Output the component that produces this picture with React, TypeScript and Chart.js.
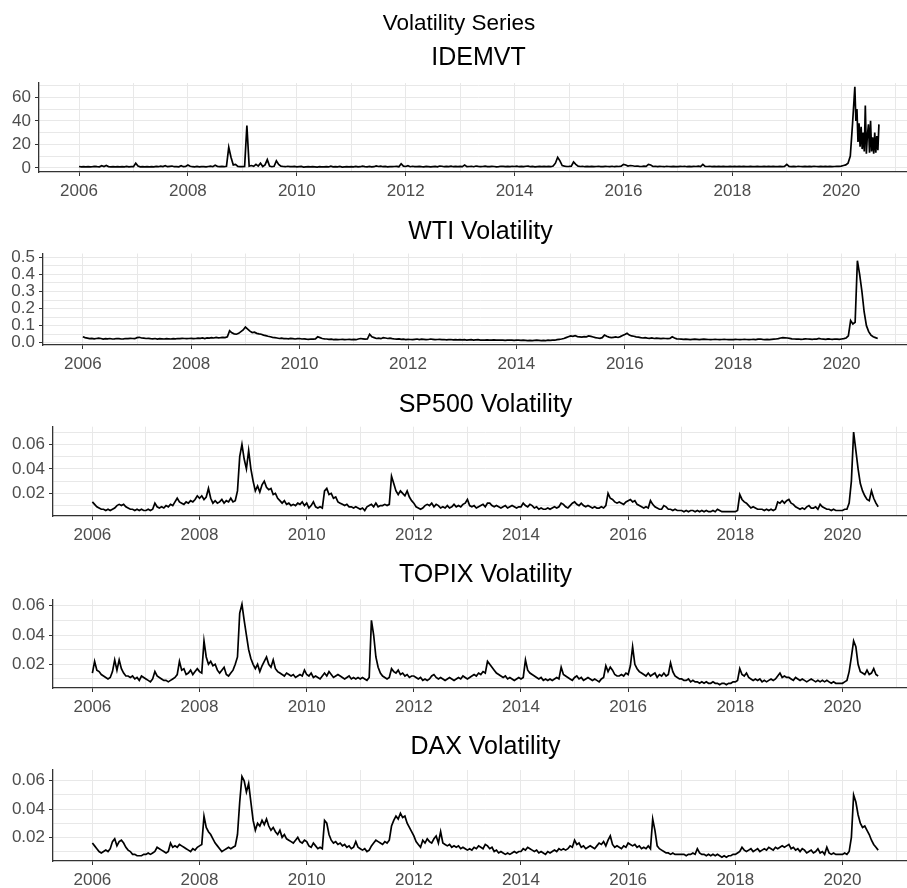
import React, { useEffect, useRef } from "react";
import { Chart, registerables } from "chart.js";

Chart.register(...registerables);

// ---------- data (half-monthly readings, Jan 2006 – Aug 2020) ----------
const START_YEAR = 2006;
const STEPS_PER_YEAR = 24;

// IDEMVT half-monthly up to the March-2020 peak, then weekly readings
const idemvt = [
  1.2, 0.8, 1, 0.9, 1.1, 0.8, 1, 1.3, 1, 0.9, 1.8, 1.2, 2, 1.1, 0.9, 1, 0.8, 1.1, 0.9, 1, 0.8, 1.2, 0.9, 1,
  1, 4, 1.5, 0.9, 1, 0.8, 1.1, 0.9, 1, 0.8, 1.2, 1, 1.5, 1.1, 1.8, 1, 1.3, 1.6, 1, 1.1, 0.9, 1.8, 1, 1.2,
  2.5, 1.4, 1, 0.9, 1.2, 0.8, 1, 1.1, 0.9, 1.2, 1.5, 1, 2.2, 1.3, 1, 1.2, 1, 1.4, 17.5, 9, 2.5, 3, 1.2, 1,
  1, 1.2, 36, 1.5, 2, 1.3, 3, 1.5, 4, 1.2, 2.5, 7, 1.5, 1, 1.4, 6, 3, 1.5, 1.2, 1, 1.4, 1.1, 1, 1.2,
  0.8, 1, 1.2, 0.7, 0.9, 1, 0.8, 1.1, 0.9, 0.7, 1, 0.8, 0.9, 1.1, 0.8, 1.5, 0.9, 1, 0.8, 1.2, 0.7, 0.9, 1, 0.8,
  1, 0.9, 1.3, 0.8, 1, 1.5, 1.1, 0.9, 1.2, 0.8, 1, 1.7, 1.2, 1.5, 1, 1.3, 0.9, 1.1, 1, 1.2, 1.3, 1, 3.5, 1.5,
  1.2, 1.8, 1, 1.4, 1.1, 1, 1.3, 1, 0.9, 1.2, 1, 0.8, 1.1, 1.3, 0.9, 1.6, 1.4, 1, 1.2, 1.1, 1.5, 1, 1.2, 1.1,
  1.3, 1, 2.5, 1.1, 1.2, 1.4, 1, 1.6, 1.3, 1.1, 1.2, 1.5, 1.1, 1, 1.3, 1.2, 0.9, 1.1, 1.4, 1.3, 1, 1.2, 1.1, 1.4,
  1.2, 1.5, 1, 1.3, 1.1, 1.4, 1.5, 1, 1.2, 0.9, 1.1, 1.3, 1, 1.2, 1.1, 1.3, 1, 1.5, 4, 9, 6, 2, 1.5, 1.2,
  1.3, 1.5, 5, 3, 1.5, 1.2, 1.4, 1, 1.2, 1.1, 1.3, 1, 1.2, 1.4, 1.1, 1, 1.3, 1.2, 1.1, 1.4, 1, 1.3, 1.2, 1.5,
  3, 2.5, 1.5, 2, 1.8, 1.4, 1.6, 1.3, 1.2, 1.5, 1.3, 3, 2.5, 1.2, 1.4, 1.1, 1.3, 1.2, 1, 1.4, 1.2, 1.1, 1.3, 1,
  1.1, 1.3, 1.2, 1.4, 1, 1.2, 1.1, 1.3, 1.2, 1.5, 1.1, 3, 1.3, 1.2, 1.4, 1.1, 1.2, 1, 1.3, 1.1, 1.2, 1, 1.1, 1.2,
  1, 1.2, 1.1, 1.3, 1, 1.2, 1.1, 1, 1.3, 1.1, 1, 1.2, 1.1, 1, 1.2, 1.1, 1.3, 1, 1.2, 1.1, 1, 1.2, 1.1, 1.3,
  3, 1.3, 1.1, 1.2, 1, 1.4, 1.2, 1.1, 1.3, 1, 1.2, 1.1, 1.4, 1.2, 1, 1.3, 1.1, 1.2, 1, 1.3, 1.1, 1.2, 1.4, 1.3,
  1.5, 2, 2.5, 4, 10, 38, 69,
];
const IDEMVT_WEEKLY_START = 2020.25;
const WEEKS_PER_YEAR = 52;
const idemvtWeekly2020 = [40, 50, 22, 38, 18, 35, 16, 30, 14, 53, 12, 28, 37, 13, 40, 14, 26, 12, 30, 13, 27, 15, 37];

const wti = [
  0.035, 0.03, 0.027, 0.024, 0.026, 0.023, 0.025, 0.027, 0.025, 0.022, 0.024, 0.023, 0.025, 0.022, 0.023, 0.025, 0.024, 0.022, 0.023, 0.025, 0.024, 0.026, 0.025, 0.024,
  0.03, 0.032, 0.028, 0.027, 0.025, 0.026, 0.024, 0.023, 0.025, 0.022, 0.024, 0.023, 0.022, 0.024, 0.023, 0.022, 0.024, 0.023, 0.025, 0.024, 0.026, 0.025, 0.024, 0.025,
  0.026, 0.024, 0.025, 0.027, 0.026, 0.028, 0.025, 0.029, 0.027, 0.03, 0.028, 0.031, 0.029, 0.03, 0.032, 0.03, 0.035, 0.07, 0.058, 0.052, 0.05, 0.055, 0.065, 0.075,
  0.092, 0.08, 0.068, 0.06, 0.062, 0.055, 0.052, 0.05, 0.045, 0.042, 0.038, 0.035, 0.032, 0.03, 0.028, 0.025, 0.027, 0.024, 0.025, 0.023, 0.026, 0.024, 0.022, 0.024,
  0.025, 0.022, 0.023, 0.021, 0.02, 0.022, 0.021, 0.023, 0.035, 0.03, 0.025, 0.023, 0.022, 0.02, 0.021, 0.019, 0.02, 0.018, 0.019, 0.02, 0.018, 0.019, 0.02, 0.019,
  0.02, 0.018, 0.022, 0.025, 0.023, 0.021, 0.022, 0.05, 0.035, 0.03, 0.025, 0.027, 0.024, 0.03, 0.028, 0.025, 0.027, 0.024, 0.022, 0.021, 0.023, 0.02, 0.021, 0.019,
  0.02, 0.019, 0.018, 0.02, 0.022, 0.019, 0.021, 0.02, 0.018, 0.019, 0.022, 0.02, 0.018, 0.019, 0.02, 0.018, 0.019, 0.017, 0.018, 0.019, 0.017, 0.018, 0.017, 0.018,
  0.017, 0.018, 0.016, 0.017, 0.018, 0.016, 0.017, 0.018, 0.016, 0.015, 0.016, 0.017, 0.015, 0.016, 0.017, 0.016, 0.015, 0.016, 0.015, 0.014, 0.015, 0.016, 0.015, 0.014,
  0.015, 0.016, 0.014, 0.015, 0.014, 0.013, 0.014, 0.013, 0.014, 0.015, 0.014, 0.013, 0.014, 0.013, 0.015, 0.014, 0.016, 0.015, 0.018, 0.02, 0.022, 0.025, 0.03, 0.035,
  0.04, 0.038, 0.042, 0.036, 0.035, 0.033, 0.036, 0.035, 0.04, 0.037, 0.034, 0.03, 0.028, 0.026, 0.03, 0.045, 0.038, 0.033, 0.03, 0.032, 0.034, 0.031, 0.036, 0.042,
  0.048, 0.055, 0.045, 0.04, 0.038, 0.035, 0.033, 0.03, 0.028, 0.03, 0.027, 0.026, 0.028, 0.025, 0.027, 0.026, 0.024, 0.026, 0.025, 0.024, 0.025, 0.035, 0.028, 0.023,
  0.022, 0.021, 0.02, 0.021, 0.02, 0.019, 0.02, 0.021, 0.02, 0.019, 0.02, 0.021, 0.02, 0.019, 0.018, 0.019, 0.02, 0.019, 0.018, 0.019, 0.02, 0.019, 0.018, 0.019,
  0.019, 0.02, 0.019, 0.018, 0.019, 0.02, 0.019, 0.018, 0.019, 0.02, 0.019, 0.021, 0.022, 0.02, 0.019, 0.02, 0.019, 0.02, 0.021, 0.022, 0.024, 0.028, 0.03, 0.029,
  0.028, 0.026, 0.023, 0.022, 0.021, 0.022, 0.02, 0.021, 0.023, 0.022, 0.021, 0.02, 0.022, 0.021, 0.025, 0.022, 0.021, 0.02, 0.023, 0.021, 0.02, 0.022, 0.021, 0.02,
  0.022, 0.024, 0.028, 0.04, 0.13, 0.11, 0.12, 0.48, 0.4, 0.3, 0.18, 0.1, 0.065, 0.045, 0.035, 0.03, 0.025,
];

const sp500 = [
  0.013, 0.011, 0.009, 0.008, 0.007, 0.007, 0.006, 0.007, 0.006, 0.007, 0.008, 0.01, 0.011, 0.01, 0.011, 0.009, 0.008, 0.007, 0.007, 0.006, 0.007, 0.006, 0.007, 0.006,
  0.006, 0.007, 0.006, 0.007, 0.012, 0.009, 0.008, 0.009, 0.008, 0.01, 0.009, 0.011, 0.01, 0.013, 0.016, 0.013, 0.012, 0.011, 0.013, 0.012, 0.014, 0.013, 0.015, 0.018,
  0.016, 0.018, 0.015, 0.017, 0.024, 0.016, 0.012, 0.014, 0.012, 0.013, 0.015, 0.012, 0.014, 0.013, 0.016, 0.013, 0.014, 0.022, 0.05, 0.06, 0.048, 0.04, 0.055, 0.04,
  0.03, 0.022, 0.026, 0.021, 0.027, 0.03, 0.025, 0.023, 0.024, 0.019, 0.02, 0.016, 0.014, 0.012, 0.014, 0.011, 0.012, 0.01, 0.011, 0.01, 0.012, 0.011, 0.013, 0.01,
  0.012, 0.008, 0.01, 0.013, 0.009, 0.008, 0.009, 0.008, 0.022, 0.024, 0.019, 0.02, 0.016, 0.017, 0.013, 0.012, 0.011, 0.01, 0.011, 0.009, 0.009, 0.008, 0.009, 0.008,
  0.007, 0.008, 0.006, 0.009, 0.01, 0.011, 0.009, 0.012, 0.009, 0.01, 0.01, 0.011, 0.01, 0.011, 0.034, 0.028, 0.022, 0.019, 0.022, 0.02, 0.018, 0.022, 0.017, 0.014,
  0.012, 0.009, 0.008, 0.007, 0.008, 0.01, 0.011, 0.01, 0.012, 0.009, 0.011, 0.01, 0.008, 0.009, 0.008, 0.01, 0.008, 0.009, 0.011, 0.009, 0.01, 0.009, 0.011, 0.012,
  0.015, 0.01, 0.009, 0.01, 0.008, 0.009, 0.01, 0.011, 0.009, 0.012, 0.012, 0.01, 0.009, 0.01, 0.009, 0.008, 0.009, 0.01, 0.008, 0.009, 0.01, 0.009, 0.008, 0.009,
  0.009, 0.012, 0.01, 0.009, 0.011, 0.01, 0.008, 0.009, 0.007, 0.008, 0.007, 0.007, 0.008, 0.007, 0.008, 0.009, 0.008, 0.009, 0.012, 0.011, 0.009, 0.008, 0.01, 0.012,
  0.013, 0.011, 0.01, 0.012, 0.01, 0.009, 0.01, 0.009, 0.008, 0.009, 0.008, 0.008, 0.009, 0.008, 0.01, 0.02, 0.016, 0.015, 0.013, 0.012, 0.013, 0.012, 0.011, 0.013,
  0.014, 0.015, 0.013, 0.014, 0.011, 0.01, 0.009, 0.008, 0.009, 0.008, 0.014, 0.011, 0.009, 0.008, 0.007, 0.007, 0.01, 0.009, 0.007, 0.007, 0.006, 0.007, 0.006, 0.006,
  0.006, 0.005, 0.006, 0.005, 0.006, 0.006, 0.005, 0.006, 0.005, 0.006, 0.005, 0.006, 0.005, 0.005, 0.006, 0.005, 0.007, 0.006, 0.005, 0.005, 0.005, 0.005, 0.005, 0.005,
  0.005, 0.006, 0.019, 0.015, 0.013, 0.012, 0.01, 0.008, 0.009, 0.008, 0.007, 0.007, 0.007, 0.006, 0.007, 0.006, 0.007, 0.006, 0.007, 0.013, 0.012, 0.014, 0.012, 0.014,
  0.015, 0.012, 0.011, 0.009, 0.008, 0.007, 0.008, 0.007, 0.009, 0.01, 0.008, 0.008, 0.009, 0.007, 0.011, 0.009, 0.008, 0.007, 0.007, 0.006, 0.007, 0.006, 0.006, 0.006,
  0.006, 0.007, 0.007, 0.012, 0.03, 0.07, 0.055, 0.04, 0.028, 0.022, 0.018, 0.015, 0.014, 0.022, 0.016, 0.012, 0.009,
];

const topix = [
  0.014, 0.022, 0.016, 0.015, 0.013, 0.012, 0.011, 0.01, 0.011, 0.015, 0.023, 0.016, 0.023, 0.017, 0.014, 0.012, 0.012, 0.011, 0.012, 0.01, 0.011, 0.009, 0.012, 0.011,
  0.01, 0.009, 0.008, 0.01, 0.015, 0.012, 0.011, 0.01, 0.009, 0.009, 0.008, 0.009, 0.01, 0.011, 0.013, 0.022, 0.016, 0.017, 0.013, 0.014, 0.016, 0.013, 0.015, 0.017,
  0.015, 0.014, 0.036, 0.025, 0.02, 0.022, 0.019, 0.02, 0.016, 0.014, 0.016, 0.018, 0.013, 0.012, 0.014, 0.016, 0.02, 0.025, 0.055, 0.061, 0.05, 0.04, 0.03, 0.024,
  0.02, 0.017, 0.02, 0.015, 0.019, 0.022, 0.025, 0.02, 0.018, 0.023, 0.017, 0.015, 0.014, 0.013, 0.012, 0.014, 0.013, 0.012, 0.013, 0.011, 0.012, 0.013, 0.012, 0.016,
  0.013, 0.012, 0.014, 0.011, 0.012, 0.011, 0.01, 0.012, 0.014, 0.012, 0.015, 0.013, 0.011, 0.012, 0.013, 0.012, 0.011, 0.01, 0.011, 0.012, 0.01, 0.011, 0.01, 0.011,
  0.01, 0.011, 0.01, 0.009, 0.011, 0.05, 0.04, 0.025, 0.018, 0.014, 0.012, 0.011, 0.01, 0.011, 0.017, 0.015, 0.014, 0.016, 0.013, 0.014, 0.012, 0.013, 0.011, 0.012,
  0.012, 0.011, 0.01, 0.011, 0.009, 0.01, 0.009, 0.01, 0.012, 0.013, 0.011, 0.01, 0.011, 0.01, 0.009, 0.01, 0.011, 0.01, 0.009, 0.01, 0.011, 0.01, 0.012, 0.011,
  0.01, 0.011, 0.012, 0.013, 0.012, 0.014, 0.013, 0.015, 0.014, 0.022, 0.02, 0.018, 0.016, 0.014, 0.013, 0.012, 0.011, 0.012, 0.01, 0.011, 0.01, 0.009, 0.01, 0.011,
  0.01, 0.011, 0.023, 0.016, 0.014, 0.013, 0.012, 0.011, 0.01, 0.011, 0.009, 0.01, 0.009, 0.01, 0.009, 0.01, 0.011, 0.01, 0.018, 0.013, 0.012, 0.011, 0.01, 0.009,
  0.011, 0.012, 0.01, 0.011, 0.009, 0.01, 0.011, 0.01, 0.009, 0.01, 0.009, 0.008, 0.01, 0.011, 0.019, 0.015, 0.018, 0.016, 0.013, 0.012, 0.012, 0.013, 0.012, 0.014,
  0.013, 0.019, 0.032, 0.02, 0.017, 0.015, 0.014, 0.013, 0.012, 0.014, 0.012, 0.013, 0.014, 0.011, 0.013, 0.012, 0.014, 0.012, 0.013, 0.021, 0.015, 0.012, 0.011, 0.01,
  0.01, 0.009, 0.009, 0.01, 0.008, 0.009, 0.008, 0.008, 0.007, 0.008, 0.007, 0.008, 0.007, 0.007, 0.008, 0.007, 0.007, 0.006, 0.007, 0.007, 0.006, 0.007, 0.007, 0.008,
  0.008, 0.009, 0.017, 0.013, 0.012, 0.014, 0.011, 0.01, 0.009, 0.01, 0.009, 0.01, 0.008, 0.009, 0.008, 0.009, 0.01, 0.009, 0.01, 0.012, 0.014, 0.011, 0.012, 0.011,
  0.011, 0.01, 0.009, 0.011, 0.01, 0.009, 0.01, 0.009, 0.008, 0.009, 0.01, 0.009, 0.008, 0.009, 0.008, 0.009, 0.008, 0.009, 0.008, 0.007, 0.008, 0.007, 0.007, 0.007,
  0.007, 0.008, 0.009, 0.015, 0.025, 0.036, 0.032, 0.02, 0.015, 0.014, 0.013, 0.016, 0.013, 0.014, 0.017, 0.013, 0.012,
];

const dax = [
  0.016, 0.014, 0.012, 0.01, 0.009, 0.01, 0.011, 0.01, 0.012, 0.017, 0.019, 0.014, 0.017, 0.018, 0.016, 0.013, 0.011, 0.01, 0.008, 0.008, 0.007, 0.007, 0.007, 0.008,
  0.008, 0.009, 0.008, 0.009, 0.01, 0.013, 0.012, 0.011, 0.01, 0.009, 0.01, 0.016, 0.013, 0.014, 0.013, 0.015, 0.014, 0.013, 0.012, 0.011, 0.01, 0.012, 0.011, 0.013,
  0.014, 0.015, 0.035, 0.027, 0.024, 0.022, 0.019, 0.016, 0.014, 0.012, 0.01, 0.011, 0.012, 0.013, 0.012, 0.013, 0.014, 0.022, 0.045, 0.063, 0.06, 0.052, 0.058, 0.045,
  0.032, 0.025, 0.03, 0.028, 0.032, 0.029, 0.033, 0.028, 0.025, 0.027, 0.024, 0.022, 0.025, 0.02, 0.022, 0.019, 0.018, 0.017, 0.016, 0.018, 0.02, 0.017, 0.016, 0.018,
  0.017, 0.014, 0.013, 0.016, 0.014, 0.012, 0.013, 0.012, 0.032, 0.03, 0.022, 0.018, 0.016, 0.017, 0.015, 0.016, 0.014, 0.015, 0.013, 0.014, 0.012, 0.013, 0.017, 0.013,
  0.012, 0.011, 0.012, 0.01, 0.011, 0.014, 0.016, 0.018, 0.017, 0.016, 0.015, 0.017, 0.016, 0.018, 0.028, 0.032, 0.035, 0.033, 0.037, 0.034, 0.035, 0.03, 0.027, 0.024,
  0.021, 0.017, 0.015, 0.013, 0.018, 0.016, 0.019, 0.017, 0.016, 0.019, 0.021, 0.016, 0.024, 0.016, 0.015, 0.014, 0.015, 0.013, 0.014, 0.013, 0.014, 0.012, 0.013, 0.012,
  0.011, 0.012, 0.011, 0.013, 0.012, 0.014, 0.013, 0.012, 0.015, 0.014, 0.012, 0.013, 0.01, 0.011, 0.009, 0.01, 0.009, 0.008, 0.009, 0.008, 0.009, 0.01, 0.009, 0.01,
  0.01, 0.012, 0.011, 0.013, 0.012, 0.011, 0.01, 0.011, 0.009, 0.01, 0.009, 0.008, 0.01, 0.009, 0.01, 0.011, 0.01, 0.012, 0.011, 0.012, 0.011, 0.012, 0.014, 0.013,
  0.018, 0.015, 0.016, 0.013, 0.014, 0.012, 0.013, 0.014, 0.013, 0.012, 0.014, 0.016, 0.015, 0.017, 0.014, 0.018, 0.021, 0.015, 0.013, 0.014, 0.013, 0.012, 0.014, 0.013,
  0.016, 0.015, 0.014, 0.015, 0.013, 0.014, 0.012, 0.013, 0.012, 0.014, 0.012, 0.033, 0.025, 0.014, 0.012, 0.011, 0.01, 0.009, 0.009, 0.008, 0.009, 0.008, 0.008, 0.008,
  0.008, 0.008, 0.007, 0.008, 0.008, 0.009, 0.008, 0.012, 0.009, 0.008, 0.008, 0.007, 0.008, 0.007, 0.008, 0.007, 0.008, 0.007, 0.006, 0.007, 0.006, 0.007, 0.007, 0.008,
  0.008, 0.009, 0.01, 0.013, 0.011, 0.01, 0.011, 0.012, 0.01, 0.011, 0.012, 0.01, 0.011, 0.012, 0.011, 0.013, 0.012, 0.011, 0.013, 0.012, 0.013, 0.014, 0.013, 0.014,
  0.015, 0.012, 0.013, 0.011, 0.012, 0.01, 0.012, 0.011, 0.009, 0.01, 0.011, 0.009, 0.01, 0.012, 0.009, 0.01, 0.008, 0.013, 0.009, 0.008, 0.009, 0.008, 0.008, 0.008,
  0.008, 0.009, 0.008, 0.01, 0.02, 0.05, 0.045, 0.036, 0.03, 0.027, 0.028, 0.025, 0.022, 0.018, 0.015, 0.013, 0.011,
];

const dates = wti.map((_, i) => START_YEAR + i / STEPS_PER_YEAR);

const idemvtPoints = [
  ...idemvt.map((y, i) => ({ x: dates[i], y })),
  ...idemvtWeekly2020.map((y, i) => ({ x: IDEMVT_WEEKLY_START + (i + 1) / WEEKS_PER_YEAR, y })),
];
const toPoints = (values: number[]) => values.map((y, i) => ({ x: dates[i], y }));

// ---------- text and ticks ----------
const mainTitle = "Volatility Series";
const panelTitles = ["IDEMVT", "WTI Volatility", "SP500 Volatility", "TOPIX Volatility", "DAX Volatility"];

const xGridYears = [2006, 2007, 2008, 2009, 2010, 2011, 2012, 2013, 2014, 2015, 2016, 2017, 2018, 2019, 2020, 2021];
const xLabelYears = [2006, 2008, 2010, 2012, 2014, 2016, 2018, 2020];

const idemvtGrid = [0, 10, 20, 30, 40, 50, 60, 70];
const idemvtLabels = ["0", "20", "40", "60"];
const wtiGrid = [0, 0.05, 0.1, 0.15, 0.2, 0.25, 0.3, 0.35, 0.4, 0.45, 0.5];
const wtiLabels = ["0.0", "0.1", "0.2", "0.3", "0.4", "0.5"];
const smallGrid = [0.01, 0.02, 0.03, 0.04, 0.05, 0.06, 0.07];
const smallLabels = ["0.02", "0.04", "0.06"];

// ---------- layout (styles / positions) ----------
const FONT = "'Liberation Sans', Arial, Helvetica, sans-serif";
const CANVAS_W = 918; // the original figure is cropped at 907 on the right
const X_MIN = 2005.265;
const X_MAX = 2021.41;

type PanelSpec = {
  points: { x: number; y: number }[];
  title: string;
  main?: string;
  top: number;
  height: number;
  left: number;
  xAxisH: number;
  yMin: number;
  yMax: number;
  yGrid: number[];
  yLabels: string[];
  titlePad: { top: number; bottom: number };
  mainPad?: { top: number; bottom: number };
};

const panels: PanelSpec[] = [
  {
    points: idemvtPoints, title: panelTitles[0], main: mainTitle,
    top: 0, height: 200, left: 39, xAxisH: 28,
    yMin: -3.5, yMax: 72.2, yGrid: idemvtGrid, yLabels: idemvtLabels,
    mainPad: { top: 10.5, bottom: 0 }, titlePad: { top: 6, bottom: 9.5 },
  },
  {
    points: toPoints(wti), title: panelTitles[1],
    top: 200, height: 172, left: 43, xAxisH: 27,
    yMin: -0.013, yMax: 0.522, yGrid: wtiGrid, yLabels: wtiLabels,
    titlePad: { top: 17.3, bottom: 6.2 },
  },
  {
    points: toPoints(sp500), title: panelTitles[2],
    top: 372, height: 173, left: 53, xAxisH: 29,
    yMin: 0.0015, yMax: 0.0744, yGrid: smallGrid, yLabels: smallLabels,
    titlePad: { top: 18, bottom: 6.7 },
  },
  {
    points: toPoints(topix), title: panelTitles[3],
    top: 545, height: 172, left: 53, xAxisH: 29,
    yMin: 0.0038, yMax: 0.0644, yGrid: smallGrid, yLabels: smallLabels,
    titlePad: { top: 15, bottom: 9.3 },
  },
  {
    points: toPoints(dax), title: panelTitles[4],
    top: 717, height: 171, left: 53, xAxisH: 27,
    yMin: 0.0033, yMax: 0.0676, yGrid: smallGrid, yLabels: smallLabels,
    titlePad: { top: 15.5, bottom: 7.5 },
  },
];

const GRID = "#e8e8e8";
const AXIS = "#333333";
const TICKTXT = "#4d4d4d";
const TITLE_SIZE = 25;
const MAIN_SIZE = 22.5;

function makeConfig(p: PanelSpec): any {
  const findLabel = (v: number) => p.yLabels.find((s) => Math.abs(parseFloat(s) - v) < 1e-9);
  const isXMajor = (v: number) => xLabelYears.some((y) => Math.abs(y - v) < 1e-9);
  const panelTitle = {
    display: true,
    text: p.title,
    color: "#000",
    fullSize: false,
    font: { family: FONT, size: TITLE_SIZE, weight: "normal", lineHeight: 1.2 },
    padding: p.titlePad,
  };
  return {
    type: "line",
    data: {
      datasets: [
        {
          data: p.points,
          borderColor: "#000000",
          borderWidth: 1.7,
          borderJoinStyle: "miter",
          pointRadius: 0,
          tension: 0,
          fill: false,
        },
      ],
    },
    options: {
      animation: false,
      responsive: false,
      maintainAspectRatio: false,
      events: [],
      layout: { padding: 0 },
      plugins: {
        legend: { display: false },
        tooltip: { enabled: false },
        title: p.main
          ? {
              display: true,
              text: p.main,
              color: "#000",
              fullSize: true,
              font: { family: FONT, size: MAIN_SIZE, weight: "normal", lineHeight: 1.2 },
              padding: p.mainPad,
            }
          : panelTitle,
        subtitle: p.main ? panelTitle : { display: false },
      },
      scales: {
        x: {
          type: "linear",
          min: X_MIN,
          max: X_MAX,
          afterBuildTicks: (s: any) => {
            s.ticks = xGridYears.filter((v) => v >= X_MIN && v <= X_MAX).map((v) => ({ value: v }));
          },
          afterFit: (s: any) => {
            s.height = p.xAxisH;
          },
          ticks: {
            autoSkip: false,
            maxRotation: 0,
            minRotation: 0,
            padding: 5,
            color: TICKTXT,
            font: { family: FONT, size: 17 },
            callback: (v: number) => (isXMajor(v) ? String(Math.round(v)) : ""),
          },
          grid: {
            color: GRID,
            lineWidth: 1,
            drawTicks: true,
            tickLength: 4,
            tickColor: (ctx: any) => (ctx.tick && isXMajor(ctx.tick.value) ? AXIS : "rgba(0,0,0,0)"),
          },
          border: { display: true, color: AXIS, width: 1.3 },
        },
        y: {
          type: "linear",
          min: p.yMin,
          max: p.yMax,
          afterBuildTicks: (s: any) => {
            s.ticks = p.yGrid.filter((v) => v >= p.yMin && v <= p.yMax).map((v) => ({ value: v }));
          },
          afterFit: (s: any) => {
            s.width = p.left;
          },
          ticks: {
            autoSkip: false,
            padding: 4,
            color: TICKTXT,
            font: { family: FONT, size: 17 },
            callback: (v: number) => findLabel(v) ?? "",
          },
          grid: {
            color: GRID,
            lineWidth: 1,
            drawTicks: true,
            tickLength: 4,
            tickColor: (ctx: any) => (ctx.tick && findLabel(ctx.tick.value) !== undefined ? AXIS : "rgba(0,0,0,0)"),
          },
          border: { display: true, color: AXIS, width: 1.3 },
        },
      },
    },
  };
}

function Panel({ spec }: { spec: PanelSpec }) {
  const ref = useRef<HTMLCanvasElement | null>(null);
  useEffect(() => {
    if (!ref.current) return;
    const chart = new Chart(ref.current, makeConfig(spec));
    return () => chart.destroy();
  }, [spec]);
  return (
    <canvas
      ref={ref}
      width={CANVAS_W}
      height={spec.height}
      style={{ position: "absolute", left: 0, top: spec.top, width: CANVAS_W, height: spec.height, display: "block" }}
    />
  );
}

export default function App() {
  useEffect(() => {
    document.documentElement.style.overflow = "hidden";
    document.body.style.margin = "0";
  }, []);
  return (
    <div style={{ position: "absolute", left: 0, top: 0, width: 907, height: 888, background: "#ffffff", overflow: "hidden" }}>
      {panels.map((p, i) => (
        <Panel key={i} spec={p} />
      ))}
    </div>
  );
}
